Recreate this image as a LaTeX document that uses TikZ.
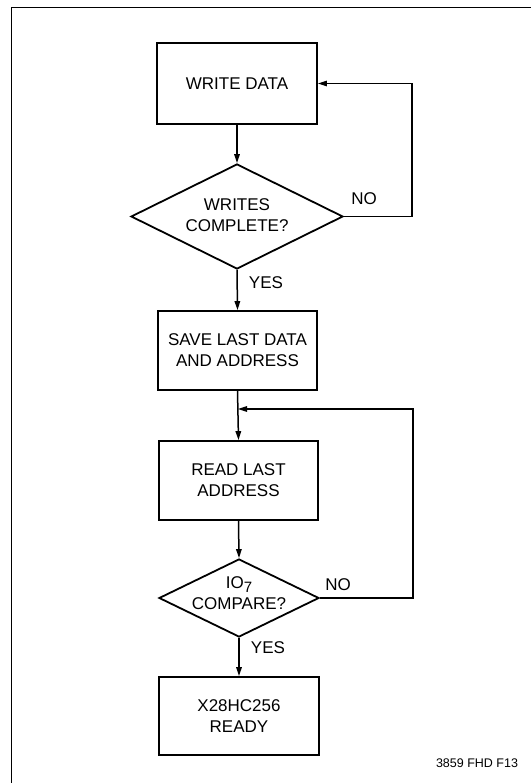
\documentclass[tikz,border=0pt]{standalone}
\usepackage{fontspec}
\setmainfont{Liberation Sans}
\usetikzlibrary{shapes.geometric,arrows.meta}
\begin{document}
\begin{tikzpicture}[x=1pt,y=-1pt,
  lbl/.style={font=\fontsize{17}{21}\selectfont,align=center,inner sep=0pt},
  box/.style={draw,line width=1.8pt,inner sep=0pt,align=center,font=\fontsize{17}{21}\selectfont},
  dia/.style={draw,diamond,line width=1.8pt,inner sep=0pt},
  flow/.style={line width=1.5pt,-{Triangle[length=9pt,width=5.5pt]}},
  back/.style={line width=1.2pt,-{Triangle[length=9pt,width=5.5pt]}}]
\useasboundingbox (0,0) rectangle (531,783);
\draw[line width=1pt] (11,783) -- (11,8) -- (531,8);
% shapes
\node[box,minimum width=160pt,minimum height=81pt] (b1) at (237,83.5) {WRITE DATA};
\node[dia,minimum width=212pt,minimum height=105pt] (d1) at (237,216.5) {};
\node[lbl] (d1t) at (237,215) {WRITES\\COMPLETE?};
\node[box,minimum width=159pt,minimum height=79pt] (b2) at (237.5,350.5) {SAVE LAST DATA\\AND ADDRESS};
\node[box,minimum width=159pt,minimum height=79pt] (b3) at (238.5,480.5) {READ LAST\\ADDRESS};
\node[dia,minimum width=160pt,minimum height=78pt] (d2) at (239,598) {};
\node[lbl] (d2t) at (239,593) {IO\raisebox{-4pt}{\fontsize{15}{15}\selectfont 7}\\COMPARE?};
\node[box,minimum width=160pt,minimum height=78pt] (b4) at (239,716) {X28HC256\\READY};
% coordinates
\coordinate (l1) at (412,216.5);
\coordinate (l2) at (413,598);
\coordinate (j) at (238,409);
% connectors
\draw[flow] (b1.south) -- (d1.north);
\draw[flow] (d1.south) -- (b2.north);
\draw[flow] (b2.south) -- (b3.north);
\draw[flow] (b3.south) -- (d2.north);
\draw[flow] (d2.south) -- (b4.north);
\draw[back] (d1.east) -- (l1) |- (b1.east);
\draw[back] (d2.east) -- (l2) |- (j);
% labels
\node[lbl] (no1) at (364,199) {NO};
\node[lbl] (yes1) at (266,283) {YES};
\node[lbl] (no2) at (338,585) {NO};
\node[lbl] (yes2) at (268,648) {YES};
\node[font=\fontsize{12.5}{14}\selectfont,inner sep=0pt] (fig) at (477,763) {3859 FHD F13};
\end{tikzpicture}
\end{document}
